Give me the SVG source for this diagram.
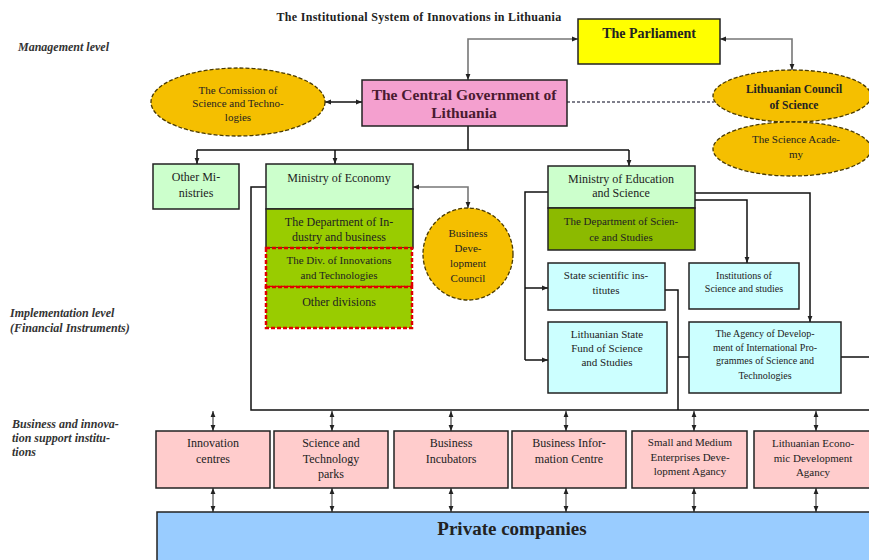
<svg xmlns="http://www.w3.org/2000/svg" width="869" height="560" viewBox="0 0 869 560">
<defs>
<marker id="ah" viewBox="0 0 10 10" refX="10" refY="5" markerWidth="6" markerHeight="6" markerUnits="userSpaceOnUse" orient="auto-start-reverse">
<path d="M0,1 L10,5 L0,9 z" fill="#222"/>
</marker>
</defs>
<style>
text{font-family:"Liberation Serif","Times New Roman",serif;fill:#222;text-anchor:middle}
.lbl{font-style:italic;font-weight:bold;text-anchor:start;font-size:12px;fill:#333}
.box{stroke:#222;stroke-width:1.5}
.ell{fill:#F5BF00;stroke:#4a3a00;stroke-width:1.3;stroke-dasharray:4 2}
.con{fill:none;stroke:#111;stroke-width:1.5}
.gry{fill:none;stroke:#777;stroke-width:1.6}
.arr{marker-end:url(#ah)}
.arr2{marker-start:url(#ah);marker-end:url(#ah)}
.t12{font-size:12px}
.t11{font-size:11px}
.t10{font-size:10px}
.green{fill:#CCFFCC}
.cyan{fill:#CCFFFF}
.pink{fill:#FFCCCC}
.cg{fill:#4a1a30;font-size:15.5px;font-weight:bold}
</style>
<rect width="869" height="560" fill="#fff"/>
<text x="419" y="21" font-size="12" font-weight="bold" letter-spacing="0.3">The Institutional System of Innovations in Lithuania</text>
<g id="labels">
<text class="lbl" x="18" y="51">Management level</text>
<text class="lbl" x="10" y="317">Implementation level</text>
<text class="lbl" x="10" y="332">(Financial Instruments)</text>
<text class="lbl" x="12" y="428">Business and innova-</text>
<text class="lbl" x="12" y="442">tion support institu-</text>
<text class="lbl" x="12" y="456">tions</text>
</g>
<g id="connectors">
<path class="gry arr2" d="M468,80 V39 H578"/>
<path class="gry arr2" d="M720,39 H792 V70"/>
<path class="con arr2" d="M325,102 H362"/>
<path d="M567,102 H714" fill="none" stroke="#556" stroke-width="1.3" stroke-dasharray="3 2"/>
<path class="con" d="M468,126 V150 M197,150 H629"/>
<path class="con arr" d="M197,150 V164"/>
<path class="con arr" d="M335,150 V164"/>
<path class="con arr" d="M629,150 V166"/>
<path class="gry arr2" d="M413,187 H468 V208"/>
<path class="con" d="M266,187 H251 V410 H869"/>
<path class="con" d="M548,192 H525 V360"/>
<path class="con arr" d="M525,288 H548"/>
<path class="con arr" d="M525,360 H548"/>
<path class="con arr" d="M695,193 H810 V322"/>
<path class="con arr" d="M695,200 H747 V263"/>
<path class="con" d="M665,290 H678 V410 M678,357 H689 M841,357 H869"/>
<path class="gry arr2" d="M213,411 V431"/>
<path class="gry arr2" d="M332,411 V431"/>
<path class="gry arr2" d="M451,411 V431"/>
<path class="gry arr2" d="M566,411 V431"/>
<path class="gry arr2" d="M694,411 V431"/>
<path class="gry arr2" d="M816,411 V431"/>
<path class="gry arr2" d="M213,488 V512"/>
<path class="gry arr2" d="M332,488 V512"/>
<path class="gry arr2" d="M451,488 V512"/>
<path class="gry arr2" d="M566,488 V512"/>
<path class="gry arr2" d="M694,488 V512"/>
<path class="gry arr2" d="M816,488 V512"/>
</g>
<g id="parliament">
<rect class="box" x="578" y="19" width="142" height="45" fill="#FFFF00"/>
<text x="649" y="38" font-size="14" font-weight="bold">The Parliament</text>
</g>
<g id="central-government">
<rect class="box" x="362" y="80" width="205" height="46" fill="#F4A0CF"/>
<text class="cg" x="464" y="100">The Central Government of</text>
<text class="cg" x="464" y="118">Lithuania</text>
</g>
<g id="commission">
<ellipse class="ell" cx="238" cy="102" rx="87" ry="34"/>
<text class="t11" x="238" y="94">The Comission of</text>
<text class="t11" x="238" y="107">Science and Techno-</text>
<text class="t11" x="238" y="121">logies</text>
</g>
<g id="council">
<ellipse class="ell" cx="792" cy="96" rx="79" ry="26"/>
<text x="794" y="93" font-size="11.5" font-weight="bold">Lithuanian Council</text>
<text x="794" y="109" font-size="11.5" font-weight="bold">of Science</text>
</g>
<g id="academy">
<ellipse class="ell" cx="792" cy="149" rx="79" ry="27"/>
<text class="t11" x="796" y="143">The Science Acade-</text>
<text class="t11" x="796" y="158">my</text>
</g>
<g id="other-ministries">
<rect class="box green" x="153" y="164" width="86" height="45"/>
<text class="t12" x="196" y="181">Other Mi-</text>
<text class="t12" x="196" y="197">nistries</text>
</g>
<g id="ministry-economy">
<rect class="box green" x="266" y="164" width="147" height="45"/>
<text class="t12" x="339" y="182">Ministry of Economy</text>
<rect class="box" x="266" y="209" width="147" height="39" fill="#99CC00"/>
<text class="t12" x="339" y="226">The Department of In-</text>
<text class="t12" x="339" y="241">dustry and business</text>
<rect x="266" y="248" width="146" height="39" fill="#99CC00" stroke="#E00000" stroke-width="2.5" stroke-dasharray="4 2"/>
<text class="t11" x="339" y="264">The Div. of Innovations</text>
<text class="t11" x="339" y="279">and Technologies</text>
<rect x="266" y="287" width="146" height="41" fill="#99CC00" stroke="#E00000" stroke-width="2.5" stroke-dasharray="4 2"/>
<text class="t12" x="339" y="306">Other divisions</text>
</g>
<g id="business-development-council">
<ellipse class="ell" cx="468" cy="254" rx="45" ry="46"/>
<text class="t11" x="468" y="237">Business</text>
<text class="t11" x="468" y="252">Deve-</text>
<text class="t11" x="468" y="267">lopment</text>
<text class="t11" x="468" y="282">Council</text>
</g>
<g id="ministry-education">
<rect class="box green" x="548" y="166" width="147" height="42"/>
<text class="t12" x="621" y="183">Ministry of Education</text>
<text class="t12" x="621" y="197">and Science</text>
<rect class="box" x="548" y="208" width="147" height="42" fill="#8CBA00"/>
<text class="t11" x="621" y="225">The Department of Scien-</text>
<text class="t11" x="621" y="241">ce and Studies</text>
</g>
<g id="state-scientific-institutes">
<rect class="box cyan" x="548" y="263" width="117" height="47"/>
<text class="t11" x="606" y="279">State scientific ins-</text>
<text class="t11" x="606" y="294">titutes</text>
</g>
<g id="institutions">
<rect class="box cyan" x="689" y="263" width="110" height="46"/>
<text class="t10" x="744" y="279">Institutions of</text>
<text class="t10" x="744" y="292">Science and studies</text>
</g>
<g id="state-fund">
<rect class="box cyan" x="548" y="322" width="119" height="71"/>
<text class="t11" x="607" y="338">Lithuanian State</text>
<text class="t11" x="607" y="352">Fund of Science</text>
<text class="t11" x="607" y="366">and Studies</text>
</g>
<g id="agency">
<rect class="box cyan" x="689" y="322" width="152" height="71"/>
<text class="t10" x="765" y="337">The Agency of Develop-</text>
<text class="t10" x="765" y="351">ment of International Pro-</text>
<text class="t10" x="765" y="364">grammes of Science and</text>
<text class="t10" x="765" y="379">Technologies</text>
</g>
<g id="innovation-centres">
<rect class="box pink" x="156" y="431" width="114" height="57"/>
<text class="t12" x="213" y="447">Innovation</text>
<text class="t12" x="213" y="463">centres</text>
</g>
<g id="science-parks">
<rect class="box pink" x="274" y="431" width="114" height="57"/>
<text class="t12" x="331" y="447">Science and</text>
<text class="t12" x="331" y="463">Technology</text>
<text class="t12" x="331" y="478">parks</text>
</g>
<g id="business-incubators">
<rect class="box pink" x="394" y="431" width="114" height="57"/>
<text class="t12" x="451" y="447">Business</text>
<text class="t12" x="451" y="463">Incubators</text>
</g>
<g id="business-information-centre">
<rect class="box pink" x="512" y="431" width="114" height="57"/>
<text class="t12" x="569" y="447">Business Infor-</text>
<text class="t12" x="569" y="463">mation Centre</text>
</g>
<g id="sme-agency">
<rect class="box pink" x="632" y="431" width="115" height="57"/>
<text class="t11" x="690" y="446">Small and Medium</text>
<text class="t11" x="690" y="461">Enterprises Deve-</text>
<text class="t11" x="690" y="475">lopment Agancy</text>
</g>
<g id="economic-development-agency">
<rect class="box pink" x="754" y="431" width="120" height="57"/>
<text class="t11" x="813" y="447">Lithuanian Econo-</text>
<text class="t11" x="813" y="462">mic Development</text>
<text class="t11" x="813" y="476">Agancy</text>
</g>
<g id="private-companies">
<rect class="box" x="157" y="512" width="720" height="56" fill="#99CCFF"/>
<text x="512" y="535" font-size="19" font-weight="bold">Private companies</text>
</g>
</svg>
